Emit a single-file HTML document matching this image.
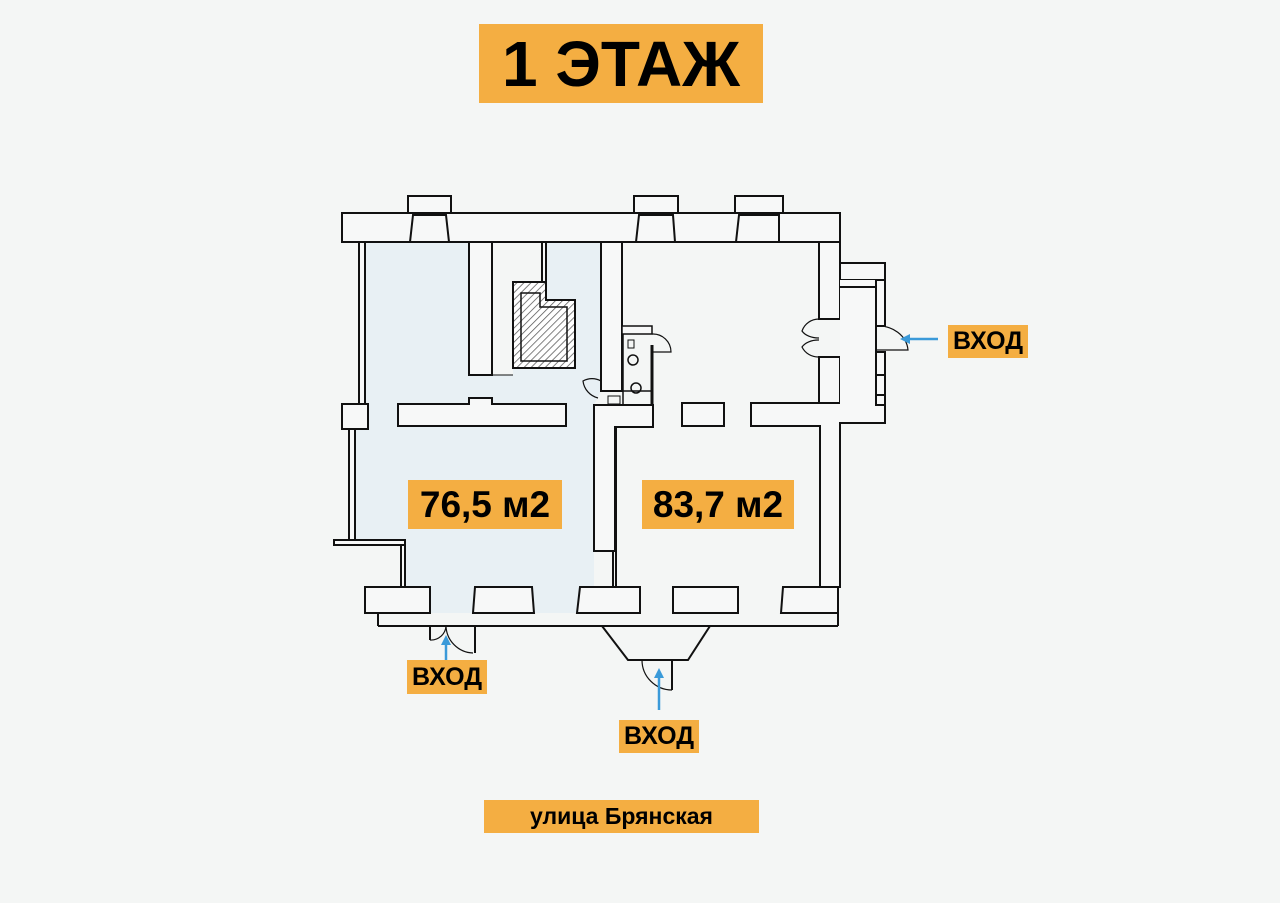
<!DOCTYPE html>
<html><head><meta charset="utf-8"><style>
html,body{margin:0;padding:0;background:#f4f6f5;}
body{width:1280px;height:903px;position:relative;overflow:hidden;font-family:"Liberation Sans",sans-serif;}
.lb{position:absolute;background:#f4ae42;color:#000;font-weight:bold;display:flex;align-items:center;justify-content:center;}
</style></head><body>
<svg width="1280" height="903" style="position:absolute;left:0;top:0" xmlns="http://www.w3.org/2000/svg">
<defs><pattern id="h" width="5" height="5" patternUnits="userSpaceOnUse" patternTransform="rotate(45)"><rect width="5" height="5" fill="#fff"/><line x1="0" y1="0" x2="0" y2="5" stroke="#555" stroke-width="1.5"/></pattern></defs>
<polygon points="365,242 469,242 469,375 513,375 513,368 575,368 575,300 544,300 544,242 601,242 601,391 594,405 594,587 613,587 613,613 365,613 365,587 404,587 404,541 355,541 355,430 365,430" fill="#e8f0f4"/>
<g stroke="#111" stroke-width="2" fill="#f7f8f8">
<polygon points="342,213 840,213 840,263 885,263 885,280 840,280 840,242 342,242"/>
<rect x="342" y="213" width="498" height="29"/>
<rect x="408" y="196" width="43" height="17"/><rect x="634" y="196" width="44" height="17"/><rect x="735" y="196" width="48" height="17"/>
<polygon points="413,215 446,215 449,242 410,242"/><polygon points="639,215 673,215 675,242 636,242"/><polygon points="739,215 779,215 779,242 736,242"/>
<rect x="359" y="242" width="6" height="162"/><rect x="342" y="404" width="26" height="25"/>
<rect x="349" y="429" width="6" height="112"/>
<rect x="334" y="540" width="71" height="5"/><rect x="401" y="545" width="4" height="42"/>
<rect x="469" y="242" width="23" height="133"/>
<line x1="492" y1="375" x2="513" y2="375" stroke-width="1"/>
<rect x="542" y="242" width="4" height="40"/>
<polygon points="513,282 546,282 546,300 575,300 575,368 513,368" fill="url(#h)"/>
<polygon points="521,293 540,293 540,307 567,307 567,361 521,361" fill="url(#h)" stroke-width="1.5"/>
<polygon points="398,404 469,404 469,398 492,398 492,404 566,404 566,426 398,426"/>
<rect x="601" y="242" width="21" height="149"/>
<polygon points="594,405 653,405 653,427 615,427 615,551 594,551"/>
<line x1="613" y1="551" x2="613" y2="587"/><line x1="616" y1="427" x2="616" y2="587"/>
<polygon points="622,326 652,326 652,334 622,334" stroke-width="1.5"/>
<line x1="623" y1="334" x2="623" y2="405" stroke-width="1.5"/>
<line x1="652" y1="345" x2="652" y2="405" stroke-width="3"/>
<line x1="601" y1="391" x2="652" y2="391" stroke-width="1.5" fill="none"/>
<rect x="628" y="340" width="6" height="8" fill="none" stroke-width="1"/>
<circle cx="633" cy="360" r="5" fill="none" stroke-width="1.5"/><circle cx="636" cy="388" r="5" fill="none" stroke-width="1.5"/>
<rect x="608" y="396" width="12" height="8" fill="none" stroke-width="1"/>
<path d="M652 334 A 18 18 0 0 1 671 352 L 652 352" fill="none" stroke-width="1.2"/>
<path d="M601 381 A 18 18 0 0 0 583 381 A 20 20 0 0 0 598 398" fill="none" stroke-width="1.2"/>
<rect x="682" y="403" width="42" height="23"/>
<polygon points="751,403 885,403 885,423 840,423 840,587 820,587 820,426 751,426"/>
<rect x="819" y="242" width="21" height="77"/>
<rect x="819" y="357" width="21" height="46"/>
<rect x="840" y="280" width="37" height="125" fill="#f7f8f8" stroke="none"/>
<line x1="840" y1="287" x2="876" y2="287"/>
<line x1="876" y1="280" x2="876" y2="405"/>
<rect x="876" y="280" width="9" height="46"/><rect x="876" y="352" width="9" height="53"/>
<line x1="885" y1="375" x2="876" y2="375"/><line x1="885" y1="395" x2="876" y2="395"/>
<path d="M819 319 A 18 18 0 0 0 802 331 A 18 12 0 0 0 819 338 M819 357 A 18 18 0 0 1 802 347 A 18 12 0 0 1 819 340" fill="none" stroke-width="1.2"/>
<path d="M876 326 A 30 26 0 0 1 908 350 L 876 350" fill="none" stroke-width="1.2"/>
<rect x="365" y="587" width="65" height="26"/><polygon points="475,587 532,587 534,613 473,613"/>
<polygon points="580,587 640,587 640,613 577,613"/><rect x="673" y="587" width="65" height="26"/>
<polygon points="783,587 838,587 838,613 781,613"/>
<line x1="378" y1="626" x2="838" y2="626"/>
<line x1="378" y1="613" x2="378" y2="626"/><line x1="838" y1="613" x2="838" y2="626"/>
<line x1="430" y1="626" x2="430" y2="640"/><line x1="475" y1="626" x2="475" y2="653"/>
<path d="M430 640 A 15 15 0 0 0 446 626 A 28 28 0 0 0 473 653" fill="none" stroke-width="1.2"/>
<polyline points="602,626 628,660 688,660 710,626" fill="none"/>
<line x1="672" y1="660" x2="672" y2="690"/>
<path d="M642 660 A 30 30 0 0 0 672 690" fill="none" stroke-width="1.2"/>
</g>
<g stroke="#3a9ad9" stroke-width="2.5" fill="#3a9ad9">
<line x1="938" y1="339" x2="908" y2="339"/><polygon points="900,339 910,334 910,344" stroke="none"/>
<line x1="446" y1="660" x2="446" y2="643"/><polygon points="446,635 441,645 451,645" stroke="none"/>
<line x1="659" y1="710" x2="659" y2="677"/><polygon points="659,668 654,678 664,678" stroke="none"/>
</g>
</svg>
<div class="lb" style="left:479px;top:24px;width:284px;height:79px;font-size:64px;">1 ЭТАЖ</div>
<div class="lb" style="left:408px;top:480px;width:154px;height:49px;font-size:37px;">76,5 м2</div>
<div class="lb" style="left:642px;top:480px;width:152px;height:49px;font-size:37px;">83,7 м2</div>
<div class="lb" style="left:948px;top:325px;width:80px;height:33px;font-size:25px;">ВХОД</div>
<div class="lb" style="left:407px;top:660px;width:80px;height:34px;font-size:25px;">ВХОД</div>
<div class="lb" style="left:619px;top:720px;width:80px;height:33px;font-size:25px;">ВХОД</div>
<div class="lb" style="left:484px;top:800px;width:275px;height:33px;font-size:23px;">улица Брянская</div>
</body></html>
